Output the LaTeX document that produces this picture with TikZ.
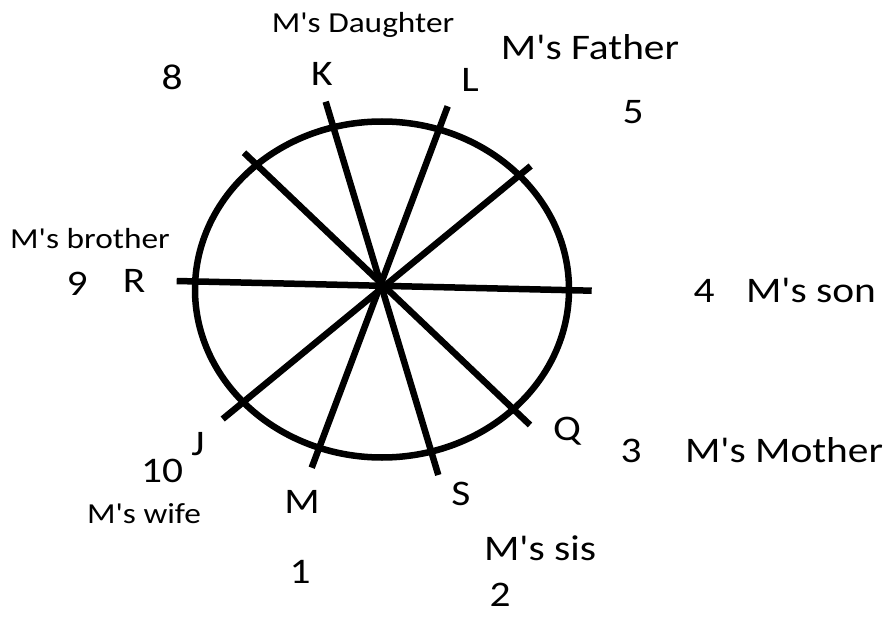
\documentclass[tikz,border=0pt]{standalone}
\usepackage{fontspec}
\setmainfont{Carlito}
\newcommand\ap{\textquotesingle}
\begin{document}
\begin{tikzpicture}[x=1pt,y=-1pt,
  spoke/.style={line width=6.5pt},
  big/.style={anchor=base,inner sep=0pt,xscale=1.15,font=\fontsize{36}{36}\selectfont},
  small/.style={anchor=base,inner sep=0pt,xscale=1.15,font=\fontsize{29}{29}\selectfont}]
\useasboundingbox[fill=white] (0,0) rectangle (887,618);
% circle
\coordinate (c) at (382,289.5);
\draw[spoke] (c) ellipse [x radius=187, y radius=168];
% spoke endpoints
\coordinate (rl) at (176.7,281);
\coordinate (rr) at (591.7,290.7);
\coordinate (kt) at (325.7,101.7);
\coordinate (sb) at (438.3,475);
\coordinate (lt) at (447.7,106.3);
\coordinate (mb) at (311.7,467.7);
\coordinate (ur) at (530.7,166);
\coordinate (jb) at (222.7,419);
\coordinate (ul) at (244,152.7);
\coordinate (qb) at (530,425);
\draw[spoke] (rl) -- (rr);
\draw[spoke] (kt) -- (sb);
\draw[spoke] (lt) -- (mb);
\draw[spoke] (ur) -- (jb);
\draw[spoke] (ul) -- (qb);
% labels
\node[small] (dau) at (363,33) {M\ap s Daughter};
\node[big] (K) at (322,85) {K};
\node[big] (L) at (470,92) {L};
\node[big] (fat) at (590,60) {M\ap s Father};
\node[big] (n8) at (172,90) {8};
\node[big] (n5) at (633,124) {5};
\node[small] (bro) at (90,248) {M\ap s brother};
\node[big] (n9) at (77,295) {9};
\node[big] (R) at (134,292) {R};
\node[big] (n4) at (704,302) {4};
\node[big] (son) at (811,302) {M\ap s son};
\node[big] (Q) at (567,440) {Q};
\node[big] (n3) at (631,462) {3};
\node[big] (mot) at (784,462) {M\ap s Mother};
\node[big] (n10) at (162,482) {10};
\node[big] (J) at (198,455) {J};
\node[small] (wif) at (144,523) {M\ap s wife};
\node[big] (M) at (302,513) {M};
\node[big] (S) at (461,505) {S};
\node[big] (sis) at (540,560) {M\ap s sis};
\node[big] (n1) at (300,583) {1};
\node[big,text depth=0pt] (n2) at (500,606) {2};
\end{tikzpicture}
\end{document}
